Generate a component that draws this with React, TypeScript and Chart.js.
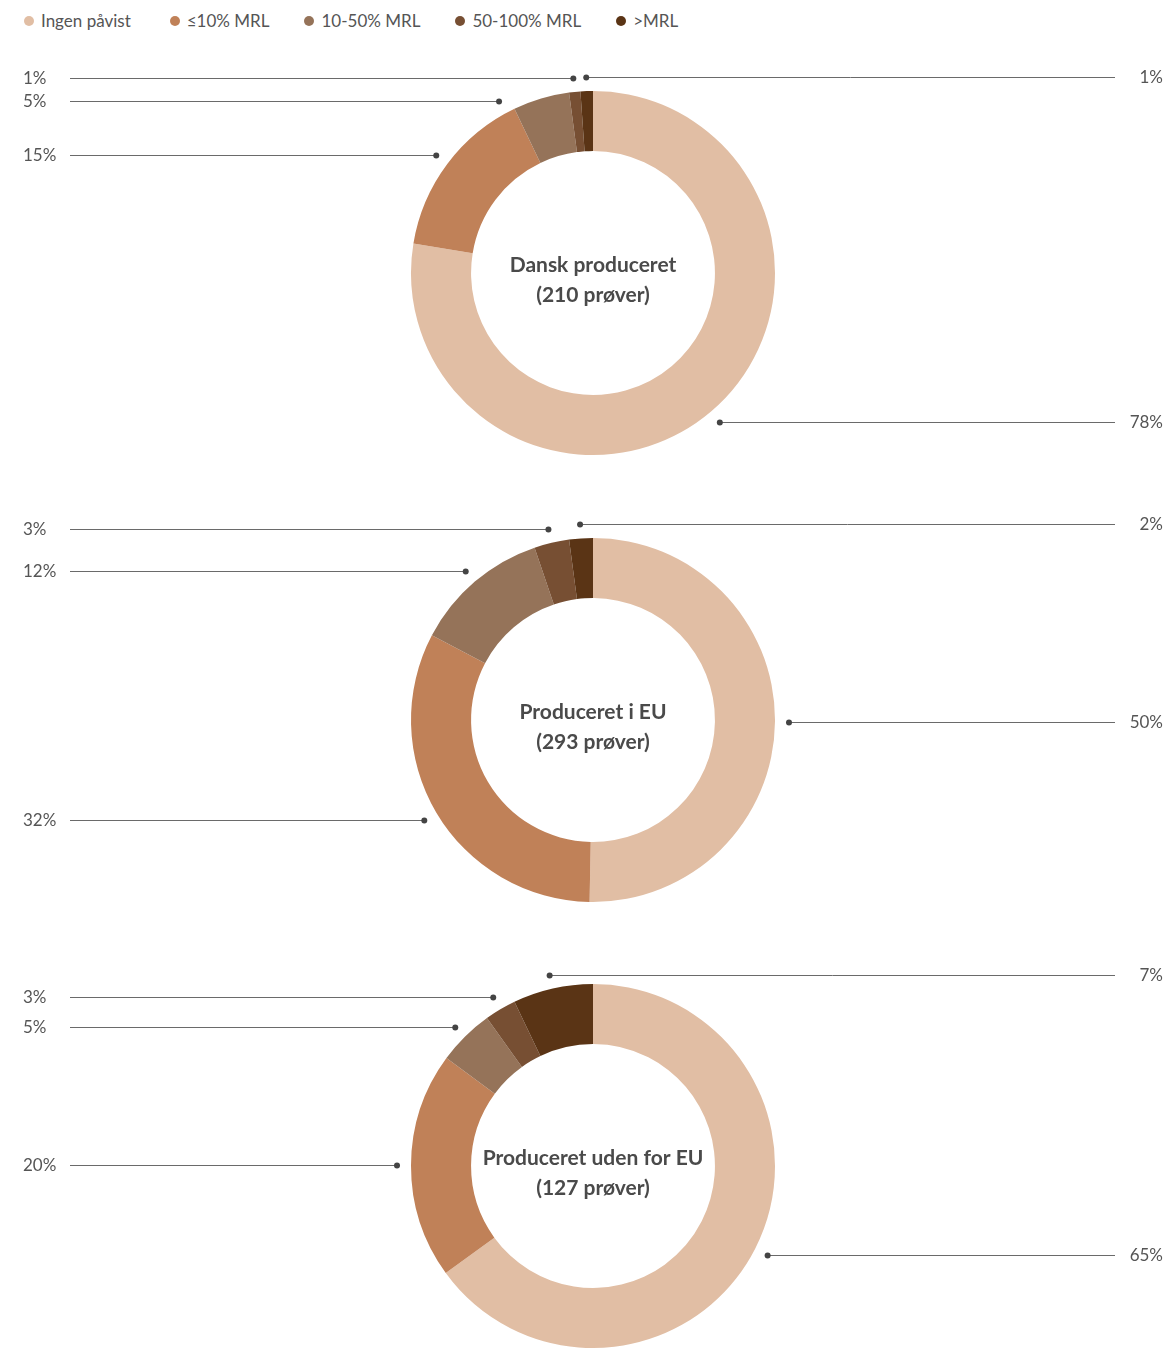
import React, { useEffect, useRef } from "react";
import { Chart, registerables } from "chart.js";

Chart.register(...registerables);

const categories = ["Ingen påvist", "≤10% MRL", "10-50% MRL", "50-100% MRL", ">MRL"];
const colors = ["#E1BEA4", "#C08158", "#957359", "#774F33", "#5A3415"];

const danskValues = [77.6, 15.3, 5.0, 1.0, 1.1];
const euValues = [50.3, 32.4, 12.1, 3.1, 2.1];
const nonEuValues = [65.0, 20.1, 5.0, 2.8, 7.1];

const danskTitle = ["Dansk produceret", "(210 prøver)"];
const euTitle = ["Produceret i EU", "(293 prøver)"];
const nonEuTitle = ["Produceret uden for EU", "(127 prøver)"];

const FONT = "Lato, 'Open Sans', sans-serif";
const TEXT = "#555555";

const leaderPlugin = {
  id: "leaders",
  afterDraw(chart: any) {
    const ctx = chart.ctx;
    const meta = chart.getDatasetMeta(0);
    const arcs = meta.data;
    const n = arcs.length;
    if (!n) return;
    const { x: cx, y: cy, outerRadius } = arcs[0].getProps(["x", "y", "outerRadius"], true);
    const R = outerRadius + 14;
    const values = chart.data.datasets[0].data as number[];
    const labels = arcs.map((arc: any, i: number) => {
      const { startAngle, endAngle } = arc.getProps(["startAngle", "endAngle"], true);
      const mid = (startAngle + endAngle) / 2;
      const side = i === 0 || i === n - 1 ? 1 : -1;
      return { i, mid, side, y: cy + R * Math.sin(mid), dir: Math.cos(mid) >= 0 ? 1 : -1 };
    });
    const gap = 23;
    for (const side of [1, -1]) {
      const group = labels.filter((l: any) => l.side === side).sort((a: any, b: any) => a.y - b.y);
      for (let k = 1; k < group.length; k++) {
        if (group[k].y - group[k - 1].y < gap) group[k].y = group[k - 1].y + gap;
      }
    }
    ctx.save();
    ctx.font = `17px ${FONT}`;
    ctx.textBaseline = "middle";
    for (const l of labels) {
      const dy = l.y - cy;
      const dx = Math.sqrt(Math.max(0, R * R - dy * dy));
      const dotX = cx + l.dir * dx;
      const yy = Math.round(l.y) + 0.5;
      const lineEnd = l.side === 1 ? chart.width - 52 : 70;
      ctx.strokeStyle = "#6a6a6a";
      ctx.lineWidth = 1;
      ctx.beginPath();
      ctx.moveTo(dotX, yy);
      ctx.lineTo(lineEnd, yy);
      ctx.stroke();
      ctx.fillStyle = "#444444";
      ctx.beginPath();
      ctx.arc(dotX, yy, 3, 0, Math.PI * 2);
      ctx.fill();
      ctx.fillStyle = TEXT;
      const txt = Math.round(values[l.i]) + "%";
      if (l.side === 1) {
        ctx.textAlign = "right";
        ctx.fillText(txt, chart.width - 4, yy);
      } else {
        ctx.textAlign = "left";
        ctx.fillText(txt, 23, yy);
      }
    }
    const title = chart.options.plugins.leaders.title as string[];
    ctx.font = `bold 21px ${FONT}`;
    ctx.fillStyle = "#4a4a4a";
    ctx.textAlign = "center";
    ctx.fillText(title[0], cx, cy - 8);
    ctx.fillText(title[1], cx, cy + 22);
    ctx.restore();
  },
};

function Donut({ values, title, top }: { values: number[]; title: string[]; top: number }) {
  const ref = useRef<HTMLCanvasElement | null>(null);
  useEffect(() => {
    if (!ref.current) return;
    const chart = new Chart(ref.current, {
      type: "doughnut",
      data: {
        labels: categories,
        datasets: [
          {
            data: values,
            backgroundColor: colors,
            borderWidth: 0,
          },
        ],
      },
      options: {
        responsive: false,
        animation: false,
        radius: 182,
        cutout: "67%",
        layout: { padding: { left: 19 } },
        plugins: {
          legend: { display: false },
          tooltip: { enabled: false },
          leaders: { title },
        } as any,
      } as any,
      plugins: [leaderPlugin],
    });
    return () => chart.destroy();
  }, [values, title]);
  return (
    <div style={{ position: "absolute", left: 0, top, width: 1167, height: 446 }}>
      <canvas ref={ref} width={1167} height={446} style={{ display: "block" }} />
    </div>
  );
}

function Legend() {
  return (
    <div
      style={{
        position: "absolute",
        left: 24,
        top: 10,
        display: "flex",
        alignItems: "center",
        fontFamily: FONT,
        fontSize: 17,
        color: TEXT,
        lineHeight: "22px",
        whiteSpace: "nowrap",
      }}
    >
      {categories.map((c, i) => (
        <div key={c} style={{ display: "flex", alignItems: "center", marginRight: i === 0 ? 39 : 35 }}>
          <span
            style={{
              width: 10,
              height: 10,
              borderRadius: 5,
              background: colors[i],
              display: "inline-block",
              marginRight: 7,
            }}
          />
          <span>{c}</span>
        </div>
      ))}
    </div>
  );
}

export default function App() {
  return (
    <div
      style={{
        position: "absolute",
        left: 0,
        top: 0,
        width: 1167,
        height: 1349,
        overflow: "hidden",
        background: "#ffffff",
      }}
    >
      <Legend />
      <Donut values={danskValues} title={danskTitle} top={50} />
      <Donut values={euValues} title={euTitle} top={497} />
      <Donut values={nonEuValues} title={nonEuTitle} top={943} />
    </div>
  );
}
